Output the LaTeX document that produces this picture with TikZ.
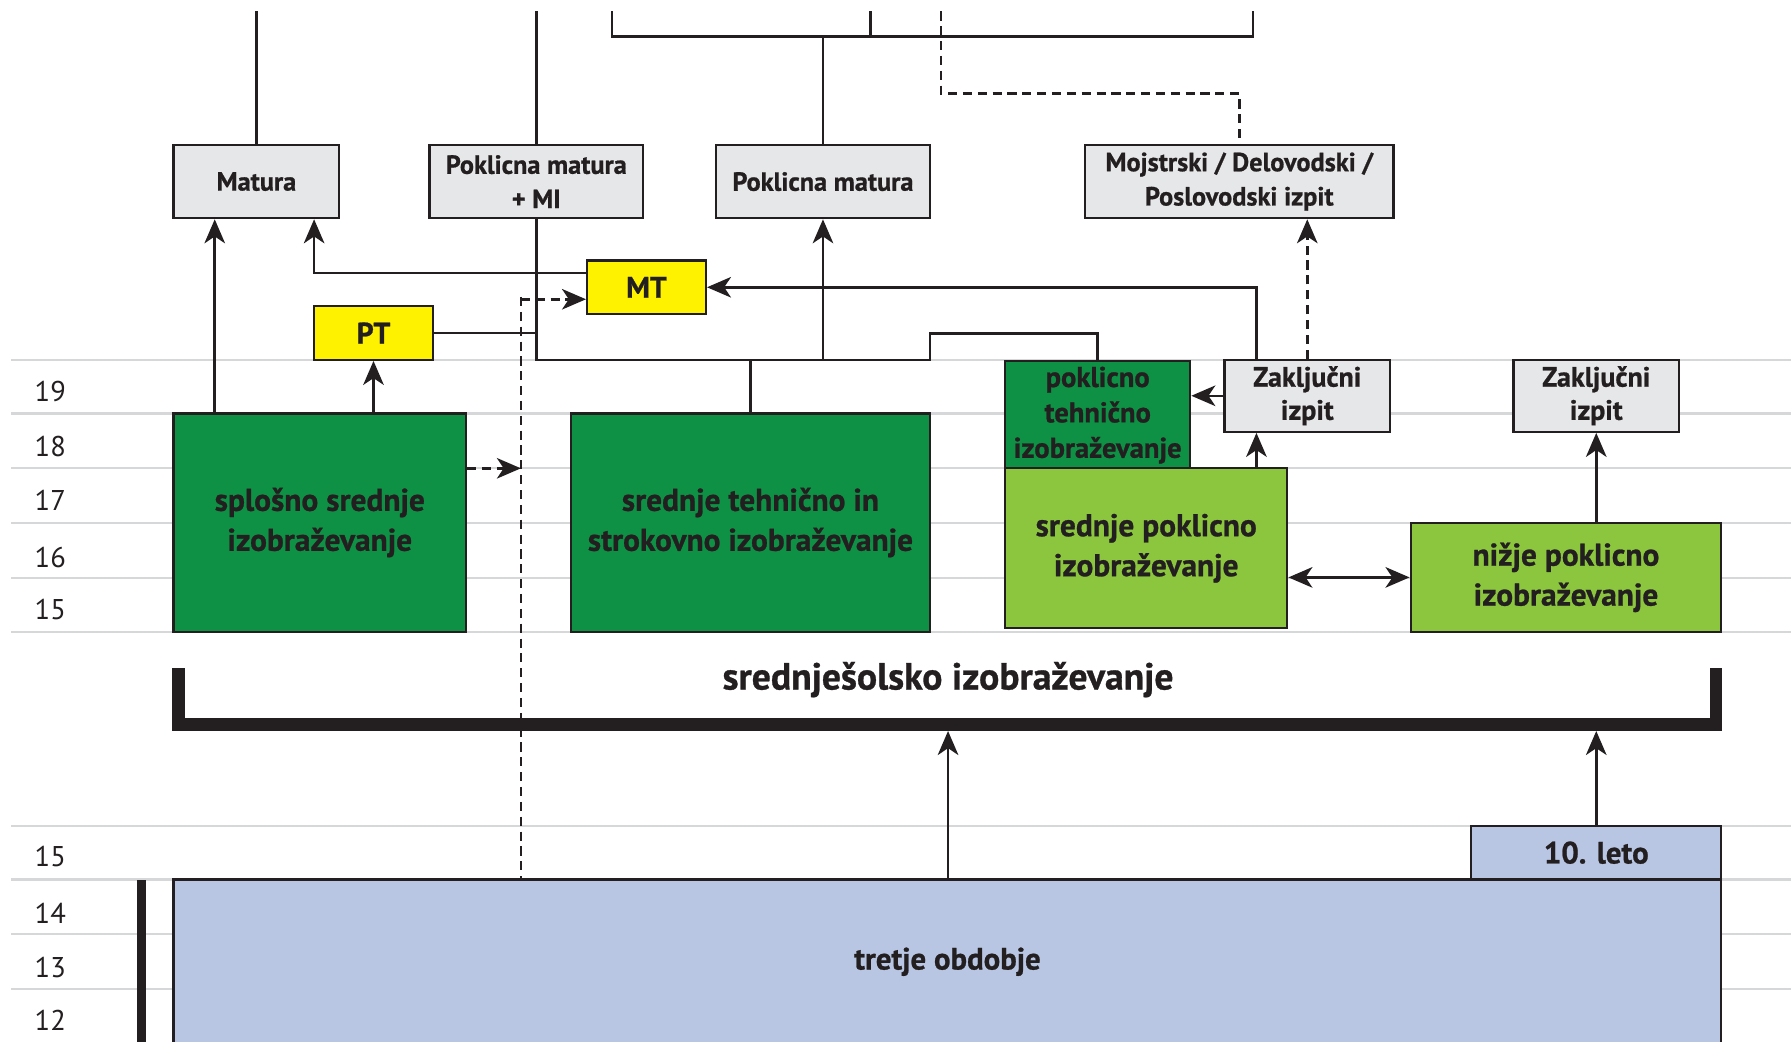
\documentclass[tikz,border=0pt]{standalone}
\usepackage{fontspec}
\setmainfont{PT Sans}[BoldFeatures={FakeBold=0.8}]
\usetikzlibrary{arrows.meta}
\definecolor{ink}{HTML}{231F20}
\definecolor{gridc}{HTML}{D6D7D8}
\definecolor{greyc}{HTML}{E6E7E8}
\definecolor{yel}{HTML}{FFF200}
\definecolor{dgreen}{HTML}{0E9144}
\definecolor{lgreen}{HTML}{8CC63E}
\definecolor{lblue}{HTML}{B8C6E4}
\begin{document}
\begin{tikzpicture}[x=1pt,y=-1pt,
  every node/.style={text=ink},
  gridln/.style={draw=gridc, line width=2pt},
  box/.style={draw=ink, line width=2pt, inner sep=0pt, align=center},
  greybox/.style={box, fill=greyc, font=\bfseries\fontsize{23}{30}\selectfont},
  zibox/.style={box, fill=greyc, font=\bfseries\fontsize{24.5}{29}\selectfont},
  yelbox/.style={box, fill=yel, font=\bfseries\fontsize{26}{30}\selectfont},
  dgbox/.style={box, fill=dgreen, font=\bfseries\fontsize{27.5}{35}\selectfont},
  lgbox/.style={box, fill=lgreen, font=\bfseries\fontsize{27.5}{35}\selectfont},
  bluebox/.style={box, fill=lblue, font=\bfseries\fontsize{27}{30}\selectfont},
  agelbl/.style={font=\fontsize{25}{30}\selectfont},
  conn/.style={draw=ink, line width=2.2pt},
  arr/.style={conn, -{Stealth[length=21pt,width=18pt,inset=6pt]}},
  dblarr/.style={conn, {Stealth[length=21pt,width=18pt,inset=6pt]}-{Stealth[length=21pt,width=18pt,inset=6pt]}},
  dline/.style={conn, dash pattern=on 8pt off 5pt},
  darr/.style={arr, dash pattern=on 8pt off 5pt},
]
\useasboundingbox (0,0) rectangle (1568,912);
\fill[white] (0,0) rectangle (1568,912);

% age grid lines
\foreach \yy in {315,362,410,458,506,553,723,770,818,866}
  \draw[gridln] (10,\yy) -- (1568,\yy);

% age labels
\node[agelbl] (a19) at (44,343) {19};
\node[agelbl] (a18) at (44,391) {18};
\node[agelbl] (a17) at (44,438) {17};
\node[agelbl] (a16) at (44,488) {16};
\node[agelbl] (a15) at (44,534) {15};
\node[agelbl] (b15) at (44,750) {15};
\node[agelbl] (b14) at (44,800) {14};
\node[agelbl] (b13) at (44,847) {13};
\node[agelbl] (b12) at (44,893) {12};

% boxes
\node[greybox, minimum width=145pt, minimum height=64pt] (matura) at (224.5,159) {Matura};
\node[greybox, minimum width=187pt, minimum height=64pt] (pmmi) at (469.5,159) {Poklicna matura\\+ MI};
\node[greybox, minimum width=187pt, minimum height=64pt] (pm) at (720.5,159) {Poklicna matura};
\node[greybox, minimum width=270pt, minimum height=64pt] (moj) at (1085,159) {Mojstrski / Delovodski /\\Poslovodski izpit};
\node[yelbox, minimum width=104pt, minimum height=47pt] (mt) at (566,251.5) {MT};
\node[yelbox, minimum width=104pt, minimum height=47pt] (pt) at (327,291.5) {PT};
\node[dgbox, minimum width=256pt, minimum height=191pt] (sse) at (280,457.5) {splošno srednje\\izobraževanje};
\node[dgbox, minimum width=314pt, minimum height=191pt] (stse) at (657,457.5) {srednje tehnično in\\strokovno izobraževanje};
\node[dgbox, minimum width=162pt, minimum height=95pt, font=\bfseries\fontsize{25}{31}\selectfont] (pti) at (961,363.5) {poklicno\\tehnično\\izobraževanje};
\node[zibox, minimum width=145pt, minimum height=63pt] (zi1) at (1144.5,346.5) {Zaključni\\izpit};
\node[lgbox, minimum width=247pt, minimum height=140pt] (spi) at (1003.5,480) {srednje poklicno\\izobraževanje};
\node[zibox, minimum width=145pt, minimum height=63pt] (zi2) at (1397.5,346.5) {Zaključni\\izpit};
\node[lgbox, minimum width=272pt, minimum height=95pt] (npi) at (1371,505.5) {nižje poklicno\\izobraževanje};
\node[bluebox, minimum width=219pt, minimum height=47pt] (leto) at (1397.5,746.5) {10. leto};
\node[bluebox, minimum width=1355pt, minimum height=144pt] (tretje) at (829.5,842) {tretje obdobje};

% left black bar
\fill[ink] (120,770) rectangle (128,912);

% top structure
\coordinate (topedge) at (0,10);
\coordinate (tb1) at (536,32);
\coordinate (tb2) at (1097,32);
\coordinate (tb3) at (762,32);
\draw[conn] (tb1 |- topedge) -- (tb1) -- (tb2) -- (tb2 |- topedge);
\draw[conn] (tb3) -- (tb3 |- topedge);
\draw[conn] (pm.north) -- (pm.north |- tb1);
\draw[conn] (matura.north) -- (matura.north |- topedge);
\draw[conn] (pmmi.north) -- (pmmi.north |- topedge);
\coordinate (dk1) at (824,82);
\draw[dline] (dk1 |- topedge) -- (dk1) -- (dk1 -| moj.north) -- (moj.north);

% middle network
\coordinate (j1) at (469.5,315);
\coordinate (j2) at (814,315);
\coordinate (j3) at (814,292);
\draw[conn] (pmmi.south) -- (j1) -- (j2) -- (j3) -- (j3 -| pti.north) -- (pti.north);
\draw[conn] (stse.north) -- (stse.north |- j1);
\draw[arr] (pm.south |- j1) -- (pm.south);
\draw[conn] (pt.east) -- (pt.east -| j1);
\draw[arr] ([yshift=12.5pt]mt.west) -| ([xshift=50.5pt]matura.south);

% dashed vertical
\coordinate (dv) at (456,260);
\draw[dline] (dv) -- (dv |- tretje.north);
\coordinate (mtin) at ([yshift=-10.5pt]mt.west);
\draw[darr] (mtin -| dv) -- (mtin);
\coordinate (sseo) at ([yshift=47.5pt]sse.east);
\draw[darr] (sseo) -- (sseo -| dv);

% arrows from splosno
\draw[arr] ([xshift=-92pt]sse.north) -- ([xshift=-36.5pt]matura.south);
\draw[arr] ([xshift=47pt]sse.north) -- (pt.south);

% vocational side
\draw[arr] ([xshift=-44.5pt]zi1.north) |- (mt.east);
\draw[arr] (zi1.west) -- (zi1.west -| pti.east);
\draw[darr] (zi1.north) -- (zi1.north |- moj.south);
\draw[arr] ([xshift=96.5pt]spi.north) -- ([xshift=-44.5pt]zi1.south);
\draw[dblarr] (spi.east |- npi.west) -- (npi.west);
\draw[arr] ([xshift=26.5pt]npi.north) -- (zi2.south);

% bracket
\draw[draw=ink, line width=11pt, line join=miter] (156.5,585) -- (156.5,634.5) -- (1502.5,634.5) -- (1502.5,585);
\node[font=\bfseries\fontsize{33}{38}\selectfont] (sslabel) at (830,595) {srednješolsko izobraževanje};
\coordinate (brk) at (830,640);
\coordinate (brk2) at (1397.5,640);
\draw[arr] (tretje.north -| brk) -- (brk);
\draw[arr] (leto.north) -- (brk2);
\end{tikzpicture}
\end{document}
